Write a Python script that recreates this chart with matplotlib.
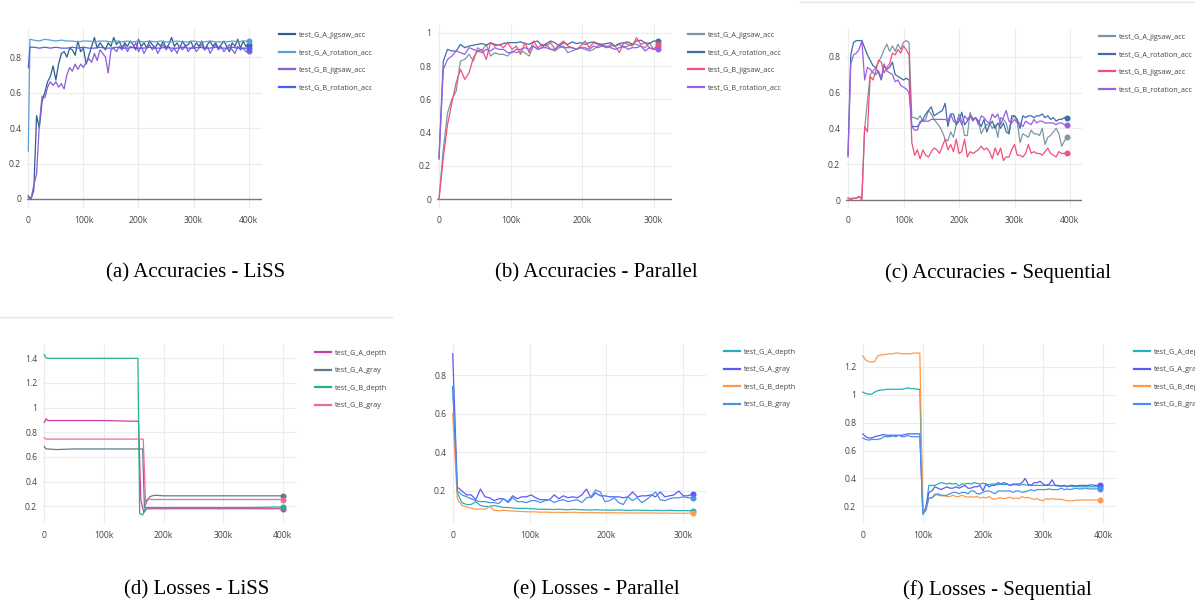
import numpy as np
import matplotlib
matplotlib.use('Agg')
import matplotlib.pyplot as plt
from matplotlib.lines import Line2D

W, H = 1195, 607

# ---------------- data (x in thousands of steps) ----------------
# (a) Accuracies - LiSS
a_x_jig = np.arange(0, 401, 5)
a_A_jigsaw = [0.01, 0.0, 0.05, 0.47, 0.40, 0.55, 0.60, 0.66, 0.69, 0.75,
              0.67, 0.76, 0.82, 0.83, 0.80, 0.85, 0.84, 0.81, 0.89, 0.83,
              0.85, 0.76, 0.81, 0.86, 0.91, 0.85, 0.88, 0.86, 0.84, 0.88,
              0.86, 0.91, 0.87, 0.89, 0.85, 0.88, 0.86, 0.89, 0.87, 0.84,
              0.90, 0.86, 0.88, 0.85, 0.89, 0.87, 0.85, 0.88, 0.86, 0.89,
              0.85, 0.87, 0.91, 0.86, 0.88, 0.85, 0.89, 0.86, 0.87, 0.89,
              0.85, 0.88, 0.86, 0.89, 0.84, 0.87, 0.89, 0.86, 0.88, 0.85,
              0.87, 0.89, 0.86, 0.83, 0.88, 0.86, 0.90, 0.85, 0.89, 0.86, 0.87]
a_B_jigsaw = [0.02, 0.0, 0.08, 0.14, 0.42, 0.58, 0.57, 0.63, 0.66, 0.64,
              0.66, 0.63, 0.65, 0.62, 0.70, 0.74, 0.72, 0.76, 0.73, 0.76,
              0.74, 0.77, 0.79, 0.77, 0.82, 0.78, 0.84, 0.82, 0.80, 0.71,
              0.84, 0.85, 0.83, 0.86, 0.84, 0.87, 0.83, 0.86, 0.85, 0.88,
              0.83, 0.86, 0.82, 0.85, 0.87, 0.84, 0.86, 0.82, 0.85, 0.87,
              0.84, 0.86, 0.83, 0.85, 0.82, 0.86, 0.84, 0.87, 0.83, 0.85,
              0.86, 0.83, 0.85, 0.87, 0.84, 0.86, 0.82, 0.85, 0.87, 0.84,
              0.86, 0.83, 0.85, 0.87, 0.84, 0.82, 0.86, 0.84, 0.85, 0.83, 0.835]
a_x_rot = [0, 3] + list(range(10, 401, 10))
a_A_rotation = [0.27, 0.90,
                0.895, 0.89, 0.90, 0.895, 0.89, 0.895, 0.89, 0.89, 0.885, 0.89,
                0.89, 0.885, 0.89, 0.89, 0.885, 0.89, 0.885, 0.89, 0.885, 0.89,
                0.885, 0.89, 0.885, 0.89, 0.885, 0.885, 0.89, 0.885, 0.885, 0.89,
                0.885, 0.885, 0.89, 0.885, 0.885, 0.885, 0.89, 0.885, 0.89, 0.89]
a_B_rotation = [0.74, 0.855,
                0.855, 0.85, 0.855, 0.85, 0.855, 0.85, 0.85, 0.855, 0.85, 0.855,
                0.85, 0.85, 0.855, 0.85, 0.85, 0.855, 0.85, 0.85, 0.855, 0.85,
                0.85, 0.855, 0.85, 0.85, 0.855, 0.85, 0.85, 0.855, 0.85, 0.85,
                0.855, 0.85, 0.85, 0.855, 0.85, 0.85, 0.855, 0.85, 0.85, 0.85]

# (b) Accuracies - Parallel
b_x = np.arange(0, 307, 6)
b_A_jigsaw = [0.0, 0.30, 0.52, 0.60, 0.65, 0.83, 0.84, 0.87, 0.83, 0.91,
              0.89, 0.93, 0.86, 0.88, 0.87, 0.87, 0.86, 0.89, 0.88, 0.89,
              0.88, 0.86, 0.92, 0.90, 0.91, 0.93, 0.90, 0.89, 0.91, 0.92,
              0.88, 0.89, 0.90, 0.91, 0.90, 0.89, 0.90, 0.92, 0.93, 0.91,
              0.92, 0.92, 0.93, 0.91, 0.92, 0.93, 0.93, 0.92, 0.91, 0.94,
              0.90, 0.92]
b_A_rotation = [0.25, 0.83, 0.90, 0.89, 0.89, 0.93, 0.91, 0.92, 0.925, 0.93,
                0.935, 0.925, 0.94, 0.93, 0.925, 0.935, 0.94, 0.94, 0.94, 0.945,
                0.935, 0.93, 0.945, 0.95, 0.92, 0.935, 0.95, 0.94, 0.92, 0.94,
                0.93, 0.945, 0.935, 0.94, 0.93, 0.94, 0.945, 0.935, 0.93, 0.935,
                0.94, 0.92, 0.935, 0.94, 0.945, 0.93, 0.95, 0.955, 0.94, 0.935,
                0.95, 0.95]
b_B_jigsaw = [0.0, 0.25, 0.45, 0.58, 0.70, 0.78, 0.72, 0.76, 0.85, 0.89,
              0.90, 0.84, 0.94, 0.92, 0.93, 0.91, 0.94, 0.90, 0.92, 0.87,
              0.94, 0.88, 0.95, 0.91, 0.93, 0.92, 0.94, 0.90, 0.93, 0.95,
              0.92, 0.91, 0.90, 0.92, 0.95, 0.91, 0.94, 0.93, 0.92, 0.91,
              0.93, 0.92, 0.88, 0.94, 0.93, 0.92, 0.97, 0.93, 0.94, 0.91,
              0.90, 0.93]
b_B_rotation = [0.24, 0.78, 0.84, 0.86, 0.89, 0.88, 0.87, 0.91, 0.90, 0.89,
                0.88, 0.90, 0.89, 0.91, 0.90, 0.90, 0.88, 0.88, 0.90, 0.90,
                0.91, 0.90, 0.92, 0.90, 0.91, 0.91, 0.90, 0.90, 0.92, 0.91,
                0.91, 0.91, 0.90, 0.91, 0.91, 0.90, 0.92, 0.91, 0.92, 0.92,
                0.91, 0.90, 0.91, 0.92, 0.90, 0.91, 0.91, 0.92, 0.89, 0.91,
                0.90, 0.90]

# (c) Accuracies - Sequential
c_x = np.arange(0, 396, 5)
c_A_jigsaw = [0.01, 0.01, 0.01, 0.01, 0.02, 0.01, 0.40, 0.55, 0.70, 0.72,
              0.74, 0.77, 0.80, 0.84, 0.87, 0.83, 0.86, 0.83, 0.87, 0.84,
              0.88, 0.89, 0.88,
              0.46, 0.46, 0.45, 0.47, 0.44, 0.45, 0.50, 0.48, 0.45, 0.43,
              0.41, 0.38, 0.34, 0.33, 0.38, 0.35, 0.42, 0.48, 0.44, 0.36,
              0.36, 0.49, 0.45, 0.46, 0.44, 0.37, 0.40, 0.42, 0.43, 0.40,
              0.42, 0.35, 0.46, 0.45, 0.43, 0.37, 0.45, 0.47, 0.44, 0.32,
              0.37, 0.36, 0.35, 0.39, 0.37, 0.37, 0.36, 0.40, 0.31, 0.35,
              0.36, 0.38, 0.40, 0.37, 0.30, 0.33, 0.35]
c_A_rotation = [0.25, 0.81, 0.88, 0.89, 0.89, 0.89, 0.85, 0.81, 0.78, 0.75,
                0.74, 0.71, 0.67, 0.75, 0.73, 0.74, 0.77, 0.70, 0.69, 0.68,
                0.67, 0.68, 0.67,
                0.41, 0.41, 0.41, 0.43, 0.45, 0.48, 0.50, 0.52, 0.47, 0.48,
                0.49, 0.50, 0.54, 0.41, 0.48, 0.48, 0.42, 0.44, 0.49, 0.42,
                0.44, 0.47, 0.45, 0.46, 0.44, 0.41, 0.45, 0.38, 0.42, 0.44,
                0.40, 0.43, 0.40, 0.43, 0.38, 0.37, 0.47, 0.47, 0.45, 0.40,
                0.47, 0.46, 0.47, 0.47, 0.46, 0.47, 0.47, 0.48, 0.46, 0.47,
                0.45, 0.46, 0.44, 0.45, 0.45, 0.46, 0.46]
c_B_jigsaw = [0.01, 0.00, 0.01, 0.01, 0.02, 0.00, 0.41, 0.38, 0.69, 0.67,
              0.72, 0.78, 0.77, 0.71, 0.74, 0.76, 0.82, 0.81, 0.84, 0.82,
              0.86, 0.84, 0.81,
              0.32, 0.25, 0.28, 0.23, 0.28, 0.25, 0.24, 0.27, 0.29, 0.28,
              0.26, 0.30, 0.34, 0.28, 0.31, 0.27, 0.34, 0.26, 0.27, 0.34,
              0.24, 0.27, 0.26, 0.27, 0.28, 0.30, 0.28, 0.29, 0.27, 0.23,
              0.29, 0.25, 0.29, 0.22, 0.24, 0.24, 0.28, 0.31, 0.25, 0.25,
              0.24, 0.26, 0.31, 0.26, 0.27, 0.26, 0.26, 0.25, 0.27, 0.29,
              0.26, 0.25, 0.24, 0.27, 0.26, 0.26, 0.26]
c_B_rotation = [0.24, 0.76, 0.81, 0.82, 0.84, 0.89, 0.67, 0.74, 0.73, 0.71,
                0.70, 0.72, 0.68, 0.76, 0.72, 0.71, 0.70, 0.66, 0.67, 0.64,
                0.63, 0.62, 0.60,
                0.41, 0.39, 0.39, 0.44, 0.44, 0.44, 0.44, 0.45, 0.45, 0.45,
                0.45, 0.45, 0.45, 0.44, 0.48, 0.44, 0.43, 0.46, 0.42, 0.47,
                0.45, 0.47, 0.44, 0.46, 0.42, 0.47, 0.46, 0.44, 0.43, 0.48,
                0.46, 0.48, 0.42, 0.46, 0.50, 0.44, 0.43, 0.45, 0.43, 0.43,
                0.41, 0.44, 0.43, 0.42, 0.45, 0.43, 0.44, 0.44, 0.43, 0.43,
                0.43, 0.43, 0.42, 0.43, 0.43, 0.42, 0.42]

# (d) Losses - LiSS
d_x_A_depth = [0, 3, 6, 20, 50, 100, 150, 158, 162, 167, 172, 200, 250, 300, 350, 400]
d_A_depth = [0.88, 0.91, 0.895, 0.895, 0.895, 0.895, 0.89, 0.89, 0.25, 0.15, 0.18, 0.18, 0.18, 0.18, 0.18, 0.18]
d_x_A_gray = [0, 3, 6, 20, 50, 100, 150, 165, 168, 172, 178, 185, 200, 250, 300, 350, 400]
d_A_gray = [0.685, 0.665, 0.665, 0.66, 0.665, 0.665, 0.665, 0.665, 0.19, 0.25, 0.28, 0.29, 0.285, 0.285, 0.285, 0.285, 0.285]
d_x_B_depth = [0, 2, 5, 20, 50, 100, 150, 157, 160, 165, 170, 200, 250, 300, 350, 400]
d_B_depth = [1.43, 1.41, 1.40, 1.40, 1.40, 1.40, 1.40, 1.40, 0.14, 0.13, 0.19, 0.19, 0.19, 0.19, 0.19, 0.195]
d_x_B_gray = [0, 3, 6, 50, 100, 150, 166, 170, 175, 180, 200, 250, 300, 350, 400]
d_B_gray = [0.755, 0.745, 0.745, 0.745, 0.745, 0.745, 0.745, 0.22, 0.26, 0.255, 0.255, 0.255, 0.255, 0.255, 0.255]

# (e) Losses - Parallel
e_x = np.arange(0, 313, 6)
e_A_depth = [0.74, 0.19, 0.14, 0.13, 0.13, 0.145, 0.125, 0.12, 0.12, 0.125,
             0.12, 0.115, 0.115, 0.112, 0.11, 0.11, 0.11, 0.108, 0.107, 0.105,
             0.105, 0.105, 0.104, 0.106, 0.104, 0.103, 0.105, 0.104, 0.103, 0.102,
             0.102, 0.103, 0.101, 0.102, 0.101, 0.101, 0.102, 0.101, 0.100, 0.100,
             0.101, 0.100, 0.100, 0.099, 0.100, 0.099, 0.099, 0.100, 0.099, 0.098,
             0.099, 0.098, 0.099]
e_A_gray = [0.91, 0.22, 0.20, 0.18, 0.18, 0.155, 0.21, 0.17, 0.165, 0.15,
            0.16, 0.16, 0.145, 0.175, 0.16, 0.17, 0.17, 0.18, 0.165, 0.155,
            0.155, 0.155, 0.18, 0.16, 0.175, 0.165, 0.17, 0.165, 0.18, 0.21,
            0.165, 0.19, 0.175, 0.175, 0.17, 0.17, 0.17, 0.165, 0.17, 0.195,
            0.17, 0.175, 0.175, 0.18, 0.17, 0.195, 0.17, 0.175, 0.18, 0.20,
            0.175, 0.175, 0.185]
e_B_depth = [0.60, 0.16, 0.125, 0.118, 0.112, 0.105, 0.108, 0.105, 0.12, 0.10,
             0.098, 0.10, 0.098, 0.096, 0.095, 0.094, 0.093, 0.092, 0.092, 0.09,
             0.091, 0.09, 0.089, 0.09, 0.089, 0.089, 0.09, 0.089, 0.088, 0.088,
             0.089, 0.088, 0.088, 0.087, 0.088, 0.087, 0.087, 0.087, 0.086, 0.087,
             0.086, 0.086, 0.087, 0.086, 0.086, 0.085, 0.086, 0.085, 0.085, 0.085,
             0.085, 0.085, 0.085]
e_B_gray = [0.74, 0.20, 0.18, 0.17, 0.16, 0.15, 0.145, 0.145, 0.14, 0.14,
            0.135, 0.16, 0.14, 0.165, 0.145, 0.145, 0.14, 0.15, 0.15, 0.14,
            0.15, 0.155, 0.14, 0.15, 0.155, 0.145, 0.15, 0.155, 0.14, 0.165,
            0.17, 0.205, 0.195, 0.145, 0.15, 0.165, 0.14, 0.13, 0.17, 0.15,
            0.165, 0.14, 0.155, 0.175, 0.195, 0.155, 0.15, 0.16, 0.165, 0.165,
            0.17, 0.165, 0.165]

# (f) Losses - Sequential
f_x = np.arange(0, 396, 5)
f_A_depth = [1.02, 1.01, 1.005, 1.005, 1.02, 1.03, 1.035, 1.035, 1.04, 1.04,
             1.04, 1.04, 1.04, 1.04, 1.045, 1.05, 1.045, 1.045, 1.04, 1.04,
             0.14, 0.18, 0.35, 0.35, 0.35, 0.36, 0.37, 0.365, 0.36, 0.365,
             0.36, 0.365, 0.345, 0.36, 0.36, 0.365, 0.36, 0.37, 0.365, 0.36,
             0.365, 0.36, 0.355, 0.36, 0.36, 0.355, 0.36, 0.355, 0.36, 0.35,
             0.355, 0.355, 0.35, 0.355, 0.355, 0.35, 0.35, 0.35, 0.35, 0.35,
             0.35, 0.35, 0.35, 0.35, 0.35, 0.345, 0.345, 0.345, 0.345, 0.345,
             0.34, 0.345, 0.34, 0.34, 0.34, 0.34, 0.34, 0.34, 0.34, 0.34]
f_A_gray = [0.72, 0.70, 0.69, 0.69, 0.70, 0.705, 0.71, 0.715, 0.71, 0.71,
            0.71, 0.71, 0.71, 0.71, 0.715, 0.72, 0.72, 0.72, 0.72, 0.72,
            0.15, 0.19, 0.30, 0.31, 0.34, 0.33, 0.32, 0.33, 0.34, 0.33,
            0.33, 0.34, 0.33, 0.34, 0.35, 0.33, 0.33, 0.34, 0.34, 0.35,
            0.31, 0.36, 0.34, 0.35, 0.35, 0.37, 0.36, 0.37, 0.36, 0.35,
            0.36, 0.36, 0.36, 0.37, 0.40, 0.36, 0.35, 0.37, 0.37, 0.38,
            0.36, 0.35, 0.36, 0.39, 0.35, 0.35, 0.345, 0.35, 0.34, 0.35,
            0.35, 0.345, 0.35, 0.35, 0.35, 0.35, 0.355, 0.35, 0.35, 0.35]
f_B_depth = [1.28, 1.25, 1.24, 1.235, 1.24, 1.28, 1.285, 1.29, 1.29, 1.295,
             1.295, 1.30, 1.30, 1.295, 1.295, 1.295, 1.295, 1.30, 1.30, 1.30,
             0.15, 0.17, 0.26, 0.26, 0.29, 0.28, 0.275, 0.28, 0.27, 0.27,
             0.28, 0.27, 0.27, 0.28, 0.27, 0.265, 0.27, 0.265, 0.27, 0.26,
             0.265, 0.26, 0.27, 0.255, 0.25, 0.26, 0.26, 0.255, 0.26, 0.265,
             0.255, 0.26, 0.255, 0.27, 0.26, 0.265, 0.255, 0.25, 0.255, 0.245,
             0.24, 0.255, 0.25, 0.255, 0.25, 0.25, 0.25, 0.245, 0.24, 0.24,
             0.24, 0.245, 0.245, 0.245, 0.245, 0.245, 0.245, 0.245, 0.245, 0.245]
f_B_gray = [0.69, 0.68, 0.675, 0.68, 0.68, 0.68, 0.685, 0.70, 0.70, 0.70,
            0.705, 0.70, 0.71, 0.70, 0.70, 0.71, 0.70, 0.70, 0.70, 0.70,
            0.15, 0.17, 0.26, 0.26, 0.28, 0.29, 0.28, 0.275, 0.28, 0.29,
            0.30, 0.30, 0.29, 0.30, 0.30, 0.29, 0.31, 0.31, 0.29, 0.29,
            0.30, 0.31, 0.31, 0.30, 0.29, 0.31, 0.31, 0.31, 0.31, 0.31,
            0.30, 0.31, 0.31, 0.30, 0.305, 0.31, 0.32, 0.31, 0.32, 0.32,
            0.32, 0.32, 0.325, 0.32, 0.32, 0.32, 0.33, 0.32, 0.325, 0.32,
            0.325, 0.33, 0.325, 0.325, 0.33, 0.325, 0.325, 0.325, 0.325, 0.325]

acc_labels = ['test_G_A_jigsaw_acc', 'test_G_A_rotation_acc', 'test_G_B_jigsaw_acc', 'test_G_B_rotation_acc']
loss_labels = ['test_G_A_depth', 'test_G_A_gray', 'test_G_B_depth', 'test_G_B_gray']
captions = ['(a) Accuracies - LiSS', '(b) Accuracies - Parallel', '(c) Accuracies - Sequential',
            '(d) Losses - LiSS', '(e) Losses - Parallel', '(f) Losses - Sequential']

col_a = ['#2c5f8f', '#5b9fdc', '#8e5bd6', '#4f5ef2']
col_bc = ['#7b97a6', '#3d6ea8', '#f0507a', '#9a5ee3']
col_d = ['#c93fa8', '#5f7b8d', '#25b384', '#f06a96']
col_ef = ['#25b0bd', '#5b5cf5', '#ff9a4d', '#4b92e6']

# ---------------- layout helpers ----------------
fig = plt.figure(figsize=(W / 100, H / 100), dpi=100)
tick_font = 'Open Sans'


def make_panel(box, xref, yref, xmax, yticks, zeroline):
    L, T, R, B = box
    ax = fig.add_axes([L / W, 1 - B / H, (R - L) / W, (B - T) / H])
    (xv1, xp1), (xv2, xp2) = xref
    sx = (xv2 - xv1) / (xp2 - xp1)
    ax.set_xlim(xv1 + (L - xp1) * sx, xv1 + (R - xp1) * sx)
    (yv1, yp1), (yv2, yp2) = yref
    sy = (yv2 - yv1) / (yp2 - yp1)
    ax.set_ylim(yv1 + (B - yp1) * sy, yv1 + (T - yp1) * sy)
    xt = np.arange(0, xmax + 1, 100)
    ax.set_xticks(xt)
    ax.set_xticklabels(['0' if v == 0 else '%dk' % v for v in xt])
    ax.set_yticks(yticks)
    ax.set_yticklabels([('%g' % v) for v in yticks])
    for s in ax.spines.values():
        s.set_visible(False)
    ax.tick_params(length=0, labelsize=6.2, labelcolor='#444444')
    ax.tick_params(axis='x', pad=6.0)
    ax.tick_params(axis='y', pad=4.2)
    for lab in ax.get_xticklabels() + ax.get_yticklabels():
        lab.set_family(tick_font)
    ax.grid(True, color='#ececec', linewidth=0.8, zorder=0)
    ax.set_axisbelow(True)
    if zeroline:
        ax.axhline(0, color='#7a7a7a', linewidth=1.0, zorder=1)
    return ax


def draw(ax, xs, ys, color, label):
    n = min(len(xs), len(ys))
    xs = np.asarray(xs)[:n]
    ys = np.asarray(ys)[:n]
    ax.plot(xs, ys, color=color, linewidth=0.9, label=label, zorder=3)
    ax.plot(xs[-1:], ys[-1:], 'o', color=color, markersize=3.3, zorder=4)


def add_legend(ax, lx, ly):
    leg = ax.legend(loc='upper left', bbox_to_anchor=(lx / W, 1 - ly / H),
                    bbox_transform=fig.transFigure, frameon=False,
                    prop={'family': tick_font, 'size': 5.2},
                    handlelength=2.2, handletextpad=0.6, labelspacing=1.45,
                    borderpad=0, borderaxespad=0)
    for h in leg.get_lines():
        h.set_linewidth(1.6)
    for t in leg.get_texts():
        t.set_color('#444444')
    return leg


# (a)
ax = make_panel((27, 28, 262, 208), ((0, 28.3), (400, 248.7)), ((0, 199), (0.8, 57)),
                400, [0, 0.2, 0.4, 0.6, 0.8], True)
draw(ax, a_x_jig, a_A_jigsaw, col_a[0], acc_labels[0])
draw(ax, a_x_rot, a_A_rotation, col_a[1], acc_labels[1])
draw(ax, a_x_jig, a_B_jigsaw, col_a[2], acc_labels[2])
draw(ax, a_x_rot, a_B_rotation, col_a[3], acc_labels[3])
add_legend(ax, 279, 31.5)

# (b)
ax = make_panel((437, 25, 672, 208), ((0, 439), (300, 653.7)), ((0, 199.3), (1.0, 32.7)),
                300, [0, 0.2, 0.4, 0.6, 0.8, 1.0], True)
draw(ax, b_x, b_A_jigsaw, col_bc[0], acc_labels[0])
draw(ax, b_x, b_A_rotation, col_bc[1], acc_labels[1])
draw(ax, b_x, b_B_jigsaw, col_bc[2], acc_labels[2])
draw(ax, b_x, b_B_rotation, col_bc[3], acc_labels[3])
add_legend(ax, 688, 31.5)

# (c)
ax = make_panel((846, 29, 1082, 208), ((0, 848), (400, 1070)), ((0, 200), (0.8, 56.7)),
                400, [0, 0.2, 0.4, 0.6, 0.8], True)
draw(ax, c_x, c_A_jigsaw, col_bc[0], acc_labels[0])
draw(ax, c_x, c_A_rotation, col_bc[1], acc_labels[1])
draw(ax, c_x, c_B_jigsaw, col_bc[2], acc_labels[2])
draw(ax, c_x, c_B_rotation, col_bc[3], acc_labels[3])
add_legend(ax, 1099, 33.5)

# (d)
ax = make_panel((43, 345, 297, 523), ((0, 44.3), (400, 282.7)), ((1.4, 358.3), (0.2, 506.3)),
                400, [0.2, 0.4, 0.6, 0.8, 1.0, 1.2, 1.4], False)
draw(ax, d_x_A_depth, d_A_depth, col_d[0], loss_labels[0])
draw(ax, d_x_A_gray, d_A_gray, col_d[1], loss_labels[1])
draw(ax, d_x_B_depth, d_B_depth, col_d[2], loss_labels[2])
draw(ax, d_x_B_gray, d_B_gray, col_d[3], loss_labels[3])
add_legend(ax, 315, 349.5)

# (e)
ax = make_panel((452, 344, 706, 523), ((0, 452.7), (300, 683.3)), ((0.8, 375), (0.2, 491)),
                300, [0.2, 0.4, 0.6, 0.8], False)
draw(ax, e_x, e_A_depth, col_ef[0], loss_labels[0])
draw(ax, e_x, e_A_gray, col_ef[1], loss_labels[1])
draw(ax, e_x, e_B_depth, col_ef[2], loss_labels[2])
draw(ax, e_x, e_B_gray, col_ef[3], loss_labels[3])
add_legend(ax, 724, 348.5)

# (f)
ax = make_panel((862, 344, 1116, 523), ((0, 862.7), (400, 1103.3)), ((1.2, 367), (0.2, 506.3)),
                400, [0.2, 0.4, 0.6, 0.8, 1.0, 1.2], False)
draw(ax, f_x, f_A_depth, col_ef[0], loss_labels[0])
draw(ax, f_x, f_A_gray, col_ef[1], loss_labels[1])
draw(ax, f_x, f_B_depth, col_ef[2], loss_labels[2])
draw(ax, f_x, f_B_gray, col_ef[3], loss_labels[3])
add_legend(ax, 1134, 348.5)

# captions
cap_pos = [(196, 273), (596, 273), (998, 273), (197, 590), (596, 590), (997, 590)]
for (cx, cy), txt in zip(cap_pos, captions):
    fig.text(cx / W, 1 - cy / H, txt, ha='center', va='center',
             fontsize=15, family='Liberation Serif', color='black')

# faint separators left over from the screenshots
fig.add_artist(Line2D([800 / W, 1.0], [1 - 1.5 / H, 1 - 1.5 / H], color='#e4e4e4', linewidth=1))
fig.add_artist(Line2D([0, 392 / W], [1 - 316.5 / H, 1 - 316.5 / H], color='#e4e4e4', linewidth=1))

fig.savefig('out.png', dpi=100)
